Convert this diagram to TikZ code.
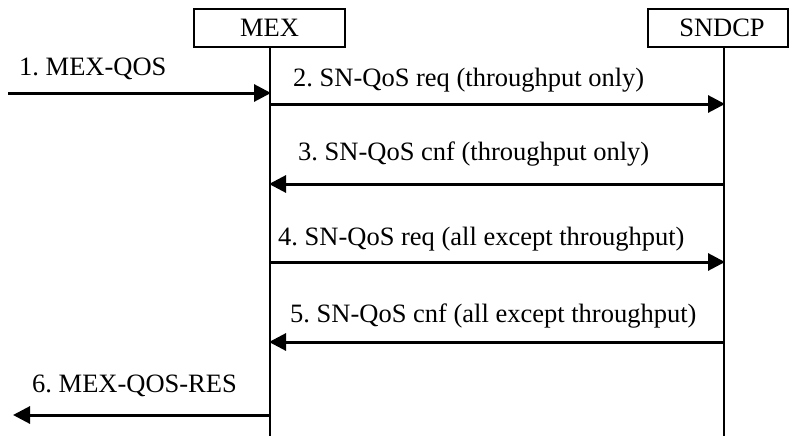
\documentclass[tikz,border=0pt]{standalone}
\usepackage{fontspec}
\setmainfont{Liberation Serif}
\usetikzlibrary{arrows.meta}
\frenchspacing
\begin{document}
\begin{tikzpicture}[x=1pt,y=-1pt,
  ent/.style={draw,line width=1.3pt,minimum height=38pt,inner sep=0pt,font=\fontsize{26.5}{30}\selectfont},
  life/.style={line width=2pt},
  msg/.style={line width=3pt,-{Triangle[length=17pt,width=17pt]},shorten >=-1pt},
  lbl/.style={anchor=base west,inner sep=0pt,font=\fontsize{26.5}{30}\selectfont}]
\useasboundingbox (0,0) rectangle (790,436);
\node[ent,minimum width=151pt] (mex) at (269.5,28) {MEX};
\node[ent,minimum width=140pt] (sndcp) at (718,28) {\hspace{8pt}SNDCP};
\coordinate (mexbot) at (270,436);
\coordinate (sndbot) at (724,436);
\coordinate (mextop) at (270,47);
\coordinate (sndtop) at (724,47);
\draw[life] (mextop) -- (mexbot);
\draw[life] (sndtop) -- (sndbot);
% positions on lifelines
\coordinate (m1) at (270,93);   \coordinate (l1) at (8,93);
\coordinate (m2) at (270,104);  \coordinate (s2) at (724,104);
\coordinate (m3) at (270,184);  \coordinate (s3) at (724,184);
\coordinate (m4) at (270,262);  \coordinate (s4) at (724,262);
\coordinate (m5) at (270,342);  \coordinate (s5) at (724,342);
\coordinate (m6) at (270,415);  \coordinate (l6) at (14,415);
\draw[msg] (l1) -- (m1);
\draw[msg] (m2) -- (s2);
\draw[msg] (s3) -- (m3);
\draw[msg] (m4) -- (s4);
\draw[msg] (s5) -- (m5);
\draw[msg] (m6) -- (l6);
\node[lbl] (t1) at (19,76) {1. MEX-QOS};
\node[lbl] (t2) at (293,87) {2. SN-QoS req (throughput only)};
\node[lbl] (t3) at (298,160) {3. SN-QoS cnf (throughput only)};
\node[lbl] (t4) at (278,245) {4. SN-QoS req (all except throughput)};
\node[lbl] (t5) at (290,322) {5. SN-QoS cnf (all except throughput)};
\node[lbl] (t6) at (32,392) {6. MEX-QOS-RES};
\end{tikzpicture}
\end{document}
